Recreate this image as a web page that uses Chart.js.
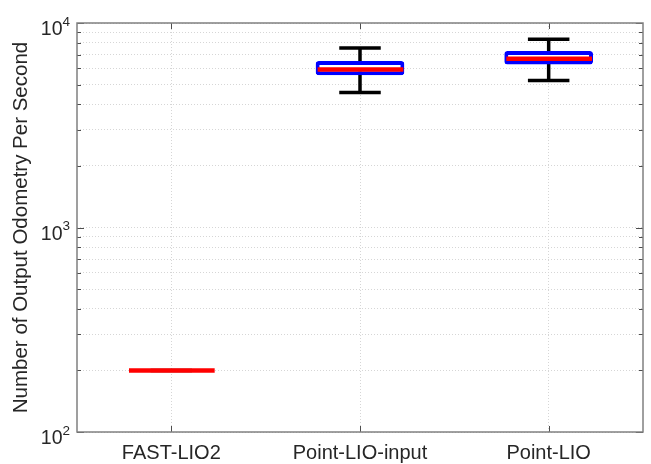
<!DOCTYPE html>
<html>
<head>
<meta charset="utf-8">
<script src="https://cdn.jsdelivr.net/npm/chart.js@4.4.1/dist/chart.umd.min.js"></script>
<style>
  html, body { margin: 0; padding: 0; background: #fff; }
  #chart { display: block; }
</style>
</head>
<body>
<canvas id="chart" width="651" height="464"></canvas>
<script>
const categories = ['FAST-LIO2', 'Point-LIO-input', 'Point-LIO'];
const whiskerLow = [200, 4570, 5240];
const boxLow = [200, 5550, 6260];
const median = [200, 5930, 6690];
const boxHigh = [200, 6510, 7290];
const whiskerHigh = [200, 7540, 8320];
const yTickValues = [100, 200, 300, 400, 500, 600, 700, 800, 900,
  1000, 2000, 3000, 4000, 5000, 6000, 7000, 8000, 9000, 10000];
const yTickLabels = { 100: '2', 1000: '3', 10000: '4' };

const FONT = "'Liberation Sans', Arial, Helvetica, sans-serif";
const TEXT = '#262626';
const BOX_FRACTION = 0.47;

const boxWhiskers = {
  id: 'boxWhiskers',
  beforeDatasetsDraw(chart) {
    const { ctx, scales: { x, y } } = chart;
    const band = x.getPixelForValue(1) - x.getPixelForValue(0);
    ctx.save();
    ctx.strokeStyle = '#000';
    ctx.lineWidth = 3.5;
    categories.forEach((c, i) => {
      const cx = x.getPixelForValue(i);
      const lo = y.getPixelForValue(whiskerLow[i]);
      const hi = y.getPixelForValue(whiskerHigh[i]);
      const cap = band * 0.11;
      ctx.beginPath();
      ctx.moveTo(cx, lo); ctx.lineTo(cx, hi);
      ctx.moveTo(cx - cap, lo); ctx.lineTo(cx + cap, lo);
      ctx.moveTo(cx - cap, hi); ctx.lineTo(cx + cap, hi);
      ctx.stroke();
    });
    ctx.restore();
  },
  afterDatasetsDraw(chart) {
    const { ctx, scales: { x, y } } = chart;
    const band = x.getPixelForValue(1) - x.getPixelForValue(0);
    const half = band * BOX_FRACTION / 2 - 2;
    ctx.save();
    ctx.strokeStyle = '#ff0000';
    ctx.lineWidth = 4.5;
    categories.forEach((c, i) => {
      const cx = x.getPixelForValue(i);
      const my = y.getPixelForValue(median[i]);
      ctx.beginPath();
      ctx.moveTo(cx - half, my); ctx.lineTo(cx + half + 1, my);
      ctx.stroke();
    });
    ctx.restore();
  },
  afterDraw(chart) {
    const { ctx, chartArea: a, scales: { x, y } } = chart;
    ctx.save();
    // ticks, inward like matlab
    ctx.strokeStyle = '#4d4d4d';
    ctx.lineWidth = 1;
    ctx.beginPath();
    yTickValues.forEach(v => {
      const py = Math.round(y.getPixelForValue(v)) + 0.5;
      const len = yTickLabels[v] ? 7 : 4;
      ctx.moveTo(a.left, py); ctx.lineTo(a.left + len, py);
      ctx.moveTo(a.right, py); ctx.lineTo(a.right - len, py);
    });
    categories.forEach((c, i) => {
      const px = Math.round(x.getPixelForValue(i)) + 0.5;
      ctx.moveTo(px, a.bottom); ctx.lineTo(px, a.bottom - 6);
      ctx.moveTo(px, a.top); ctx.lineTo(px, a.top + 6);
    });
    ctx.stroke();
    // frame
    ctx.strokeStyle = '#808080';
    ctx.lineWidth = 1.5;
    ctx.strokeRect(a.left, a.top, a.right - a.left, a.bottom - a.top);
    // y tick labels with exponent
    ctx.fillStyle = TEXT;
    ctx.textBaseline = 'alphabetic';
    ctx.textAlign = 'right';
    Object.keys(yTickLabels).forEach(v => {
      const py = y.getPixelForValue(Number(v));
      const exp = yTickLabels[v];
      const right = a.left - 7;
      ctx.font = '13.5px ' + FONT;
      const ew = ctx.measureText(exp).width;
      ctx.fillText(exp, right, py + 2.5);
      ctx.font = '19.5px ' + FONT;
      ctx.fillText('10', right - ew, py + 12);
    });
    ctx.restore();
  }
};

new Chart(document.getElementById('chart').getContext('2d'), {
  type: 'bar',
  data: {
    labels: categories,
    datasets: [{
      label: 'box',
      data: boxLow.map((lo, i) => [lo, boxHigh[i]]),
      backgroundColor: '#ffffff',
      borderColor: '#0000ff',
      borderWidth: 4,
      borderSkipped: false,
      borderRadius: 3,
      barPercentage: BOX_FRACTION,
      categoryPercentage: 1
    }]
  },
  options: {
    responsive: false,
    animation: false,
    layout: { padding: { top: 23, right: 8, left: 0, bottom: 0 } },
    plugins: { legend: { display: false }, tooltip: { enabled: false } },
    scales: {
      x: {
        type: 'category',
        offset: true,
        afterFit: s => { s.height = 32; },
        grid: { offset: false, drawTicks: false, color: '#d6d6d6', lineWidth: 1 },
        border: { display: false, dash: [1, 2] },
        ticks: { color: TEXT, padding: 9, font: { family: FONT, size: 20 } }
      },
      y: {
        type: 'logarithmic',
        min: 100,
        max: 10000,
        afterBuildTicks: s => { s.ticks = yTickValues.map(v => ({ value: v, major: !!yTickLabels[v] })); },
        afterFit: s => { s.width = 77; },
        grid: { drawTicks: false, color: '#d6d6d6', lineWidth: 1 },
        border: { display: false, dash: [1, 2] },
        ticks: { display: false },
        title: {
          display: true,
          text: 'Number of Output Odometry Per Second',
          color: TEXT,
          padding: { top: 9, bottom: 0 },
          font: { family: FONT, size: 20.5 }
        }
      }
    }
  },
  plugins: [boxWhiskers]
});
</script>
</body>
</html>
